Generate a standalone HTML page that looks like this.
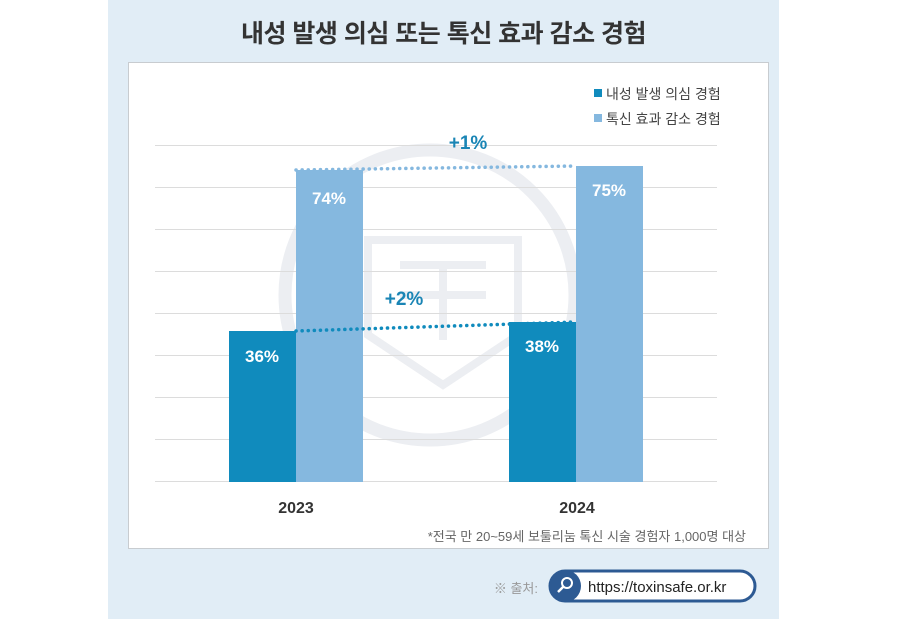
<!DOCTYPE html>
<html><head><meta charset="utf-8"><style>
body{margin:0;width:900px;height:619px;background:#fff;position:relative;overflow:hidden;font-family:"Liberation Sans","Noto Sans CJK KR",sans-serif}
.a{position:absolute}
</style></head><body>
<div class="a" style="left:108px;top:0;width:671px;height:619px;background:#e1edf6"></div>
<div class="a" style="left:108px;top:14px;width:671px;text-align:center;font-size:25px;font-weight:bold;color:#333;letter-spacing:-0.5px">내성 발생 의심 또는 톡신 효과 감소 경험</div>
<div class="a" style="left:128px;top:62px;width:641px;height:487px;background:#fff;border:1px solid #c8ccd0;box-sizing:border-box"></div>
<svg class="a" style="left:0;top:0" width="900" height="619">
<g stroke="#eceef2" stroke-width="13" fill="none">
<circle cx="430" cy="295" r="145"/>
<path d="M368 240 H518 V335 L443 385 L368 335 Z" stroke-width="8"/>
<line x1="400" y1="265" x2="486" y2="265" stroke-width="8"/>
<line x1="400" y1="295" x2="486" y2="295" stroke-width="8"/>
<line x1="443" y1="265" x2="443" y2="340" stroke-width="8"/>
</g>
<g stroke="#dcdcdc" stroke-width="1">
<line x1="155" x2="717" y1="145.5" y2="145.5"/><line x1="155" x2="717" y1="187.5" y2="187.5"/>
<line x1="155" x2="717" y1="229.5" y2="229.5"/><line x1="155" x2="717" y1="271.5" y2="271.5"/>
<line x1="155" x2="717" y1="313.5" y2="313.5"/><line x1="155" x2="717" y1="355.5" y2="355.5"/>
<line x1="155" x2="717" y1="397.5" y2="397.5"/><line x1="155" x2="717" y1="439.5" y2="439.5"/>
<line x1="155" x2="717" y1="481.5" y2="481.5"/>
</g>
<rect x="229" y="331" width="67" height="151" fill="#108bbd"/>
<rect x="296" y="170" width="67" height="312" fill="#85b8df"/>
<rect x="509" y="322" width="67" height="160" fill="#108bbd"/>
<rect x="576" y="166" width="67" height="316" fill="#85b8df"/>
<line x1="296" y1="170" x2="576" y2="166" stroke="#85b8df" stroke-width="3.5" stroke-dasharray="0.1 6" stroke-linecap="round"/>
<line x1="296" y1="331" x2="576" y2="322" stroke="#108bbd" stroke-width="3.5" stroke-dasharray="0.1 6" stroke-linecap="round"/>
<g font-family="Liberation Sans, Noto Sans CJK KR, sans-serif" font-weight="bold" font-size="17" fill="#fff" text-anchor="middle">
<text x="262" y="362">36%</text><text x="329" y="204">74%</text>
<text x="542" y="352">38%</text><text x="609" y="196">75%</text>
</g>
<g font-family="Liberation Sans, Noto Sans CJK KR, sans-serif" font-weight="bold" font-size="19" fill="#1a85b5" text-anchor="middle">
<text x="468" y="149">+1%</text><text x="404" y="305">+2%</text>
</g>
<g font-family="Liberation Sans, Noto Sans CJK KR, sans-serif" font-weight="bold" font-size="16" fill="#333" text-anchor="middle">
<text x="296" y="513">2023</text><text x="577" y="513">2024</text>
</g>
<rect x="594" y="89" width="8" height="8" fill="#108bbd"/>
<rect x="594" y="114" width="8" height="8" fill="#85b8df"/>
<g font-family="Liberation Sans, Noto Sans CJK KR, sans-serif" font-size="14" fill="#444">
<text x="606" y="99">내성 발생 의심 경험</text><text x="606" y="124">톡신 효과 감소 경험</text>
</g>
<text x="746" y="541" text-anchor="end" font-family="Liberation Sans, Noto Sans CJK KR, sans-serif" font-size="13" fill="#666">*전국 만 20~59세 보툴리눔 톡신 시술 경험자 1,000명 대상</text>
<text x="538" y="593" text-anchor="end" font-family="Liberation Sans, Noto Sans CJK KR, sans-serif" font-size="13" fill="#999">※ 출처:</text>
<rect x="550" y="571" width="205" height="30" rx="15" fill="#fff" stroke="#2d5a93" stroke-width="3"/>
<circle cx="565" cy="586" r="16" fill="#2d5a93"/>
<circle cx="567" cy="583" r="5" fill="none" stroke="#fff" stroke-width="2"/>
<line x1="563" y1="587" x2="558" y2="592" stroke="#fff" stroke-width="2.5"/>
<text x="588" y="592" font-family="Liberation Sans, Noto Sans CJK KR, sans-serif" font-size="15" fill="#222">https://toxinsafe.or.kr</text>
</svg>
</body></html>
